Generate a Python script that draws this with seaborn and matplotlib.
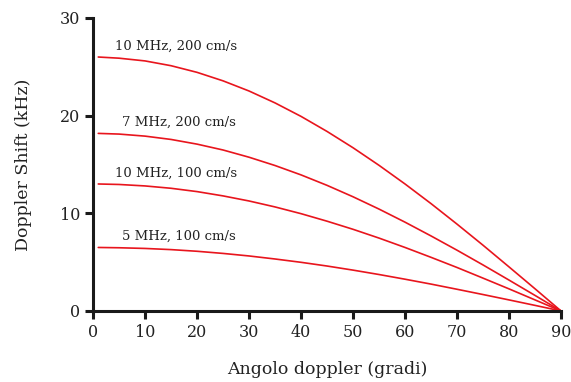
import numpy as np
import pandas as pd
import matplotlib
matplotlib.use("Agg")
import matplotlib.pyplot as plt
import seaborn as sns

sns.set_style("ticks")
plt.rcParams['font.family'] = ['DejaVu Serif']

# angles (degrees) and doppler shift (kHz)
angles = [1, 5, 10, 15, 20, 25, 30, 35, 40, 45, 50, 55, 60, 65, 70, 75, 80, 85, 90]
shift_10mhz_200 = [26.0, 25.88, 25.6, 25.11, 24.43, 23.56, 22.52, 21.3, 19.92, 18.38,
                   16.71, 14.91, 13.0, 10.99, 8.89, 6.73, 4.51, 2.27, 0.0]
shift_7mhz_200 = [18.18, 18.11, 17.9, 17.56, 17.08, 16.48, 15.74, 14.89, 13.93, 12.86,
                  11.69, 10.43, 9.09, 7.68, 6.22, 4.71, 3.16, 1.59, 0.0]
shift_10mhz_100 = [13.0, 12.95, 12.8, 12.56, 12.22, 11.78, 11.26, 10.65, 9.96, 9.19,
                   8.36, 7.46, 6.5, 5.49, 4.45, 3.36, 2.26, 1.13, 0.0]
shift_5mhz_100 = [6.5, 6.47, 6.4, 6.28, 6.11, 5.89, 5.63, 5.32, 4.98, 4.6,
                  4.18, 3.73, 3.25, 2.75, 2.22, 1.68, 1.13, 0.57, 0.0]

series = {
    "10 MHz, 200 cm/s": shift_10mhz_200,
    "7 MHz, 200 cm/s": shift_7mhz_200,
    "10 MHz, 100 cm/s": shift_10mhz_100,
    "5 MHz, 100 cm/s": shift_5mhz_100,
}
label_pos = {
    "10 MHz, 200 cm/s": (4.2, 27.1),
    "7 MHz, 200 cm/s": (5.6, 19.3),
    "10 MHz, 100 cm/s": (4.2, 14.1),
    "5 MHz, 100 cm/s": (5.6, 7.6),
}

df = pd.concat([pd.DataFrame({"angle": angles, "shift": v, "name": k})
                for k, v in series.items()])

red = "#e8151d"
fig = plt.figure(figsize=(5.71, 3.82), dpi=100)
ax = fig.add_axes([0.163, 0.186, 0.8195, 0.767])

sns.lineplot(data=df, x="angle", y="shift", units="name", estimator=None,
             color=red, linewidth=1.2, ax=ax)

for name, (x, y) in label_pos.items():
    ax.text(x, y, name, fontsize=9.5, color="#222222", va="center", ha="left")

ax.set_xlim(0, 90)
ax.set_ylim(0, 30)
ax.set_xticks(range(0, 91, 10))
ax.set_yticks([0, 10, 20, 30])
sns.despine(ax=ax)
for s in ["left", "bottom"]:
    ax.spines[s].set_linewidth(2.2)
    ax.spines[s].set_color("#1a1a1a")
ax.tick_params(width=2.2, length=6, color="#1a1a1a", labelsize=11.5,
               labelcolor="#222222")
ax.set_xlabel("Angolo doppler (gradi)", fontsize=12.5, color="#222222", labelpad=14)
ax.set_ylabel("Doppler Shift (kHz)", fontsize=12.5, color="#222222", labelpad=20)

fig.savefig("out.png", dpi=100)
